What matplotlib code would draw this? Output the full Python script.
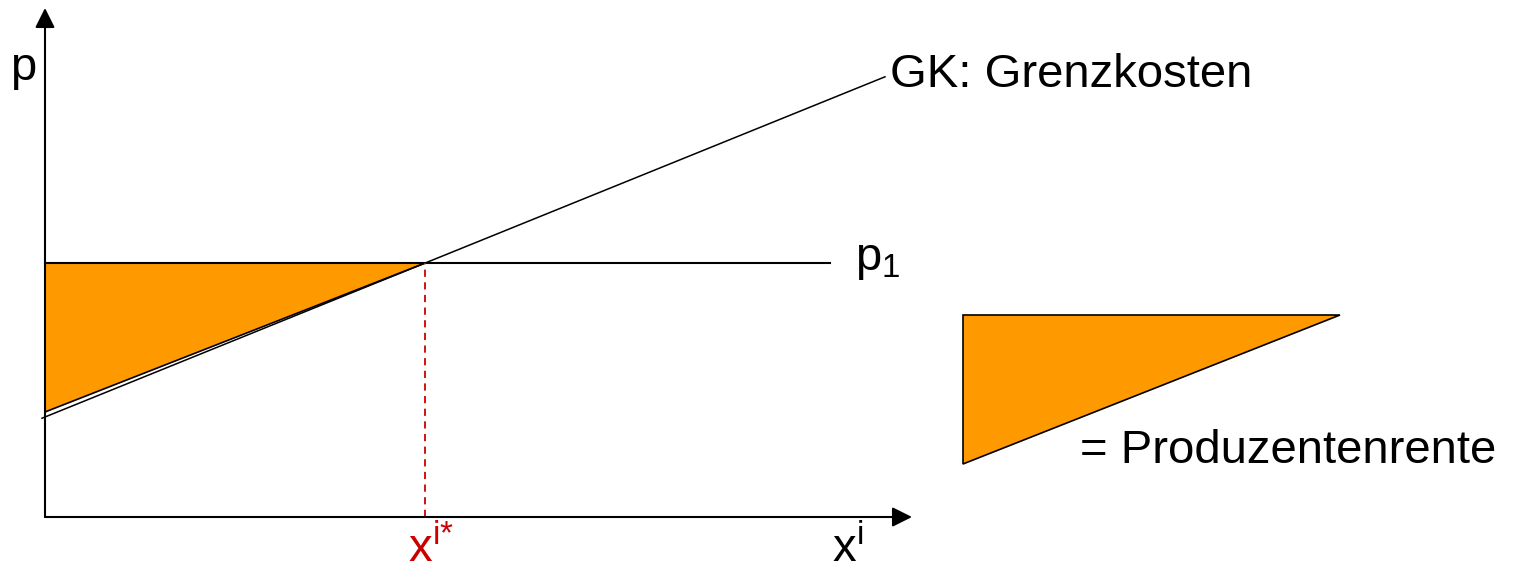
import numpy as np
import matplotlib
matplotlib.use("Agg")
from matplotlib import pyplot as plt
from matplotlib.patches import Polygon

plt.rcParams['font.family'] = ['Liberation Sans', 'DejaVu Sans']
plt.rcParams['mathtext.fontset'] = 'custom'
plt.rcParams['mathtext.rm'] = 'Liberation Sans'

# economic data (units: quantity x, price p)
gk_intercept = 1.0
gk_slope = 0.405
gk_x = np.array([-0.03, 8.40])
p1 = 2.54
p1_x = np.array([0.0, 7.85])
x_star = (p1 - gk_intercept) / gk_slope
x_max = 8.67
p_max = 5.09

# legend triangle (standalone symbol)
legend_x = np.array([9.18, 12.95, 9.18])
legend_p = np.array([2.02, 2.02, 0.53])

ORANGE = '#FF9900'
RED = '#CC0000'

fig = plt.figure(figsize=(15.17, 5.70), dpi=100)
ax = fig.add_axes([0, 0, 1, 1])
ax.set_xlim(-0.45, 14.72)
ax.set_ylim(-0.53, 5.17)
ax.axis('off')

# producer surplus triangle
tri = Polygon([[0, p1], [x_star, p1], [0, gk_intercept + 0.05]], closed=True,
              facecolor=ORANGE, edgecolor='black', lw=1.2, zorder=2)
ax.add_patch(tri)

# axes arrows
arrow = dict(arrowstyle='-|>,head_length=0.6,head_width=0.3', mutation_scale=20,
             color='black', lw=1.5, shrinkA=0, shrinkB=0)
ax.annotate('', xy=(0, p_max), xytext=(0, 0), arrowprops=arrow, zorder=4)
ax.annotate('', xy=(x_max, 0), xytext=(0, 0), arrowprops=arrow, zorder=4)

# marginal cost and price line
ax.plot(gk_x, gk_intercept + gk_slope * gk_x, color='black', lw=1.1, zorder=3)
ax.plot(p1_x, [p1, p1], color='black', lw=1.5, zorder=3)

# dashed red at x*
ax.plot([x_star, x_star], [0, p1], color=RED, lw=1.3, ls=(0, (4, 3)), zorder=3)

# labels
fs = 34
ax.text(-0.35, 4.37, 'p', fontsize=fs, va='baseline', ha='left')
ax.text(8.45, 4.30, 'GK: Grenzkosten', fontsize=fs, va='baseline', ha='left')
ax.text(8.10, 2.47, r'$\mathregular{p_1}$', fontsize=fs, va='baseline', ha='left')
ax.text(3.63, -0.45, r'$\mathregular{x^{i{*}}}$', fontsize=fs, va='baseline', ha='left', color=RED)
ax.text(7.87, -0.45, r'$\mathregular{x^{i}}$', fontsize=fs, va='baseline', ha='left')

# legend
leg = Polygon(np.column_stack([legend_x, legend_p]), closed=True,
              facecolor=ORANGE, edgecolor='black', lw=1.2)
ax.add_patch(leg)
ax.text(10.35, 0.54, '= Produzentenrente', fontsize=fs, va='baseline', ha='left')

fig.savefig('out.png', dpi=100)
